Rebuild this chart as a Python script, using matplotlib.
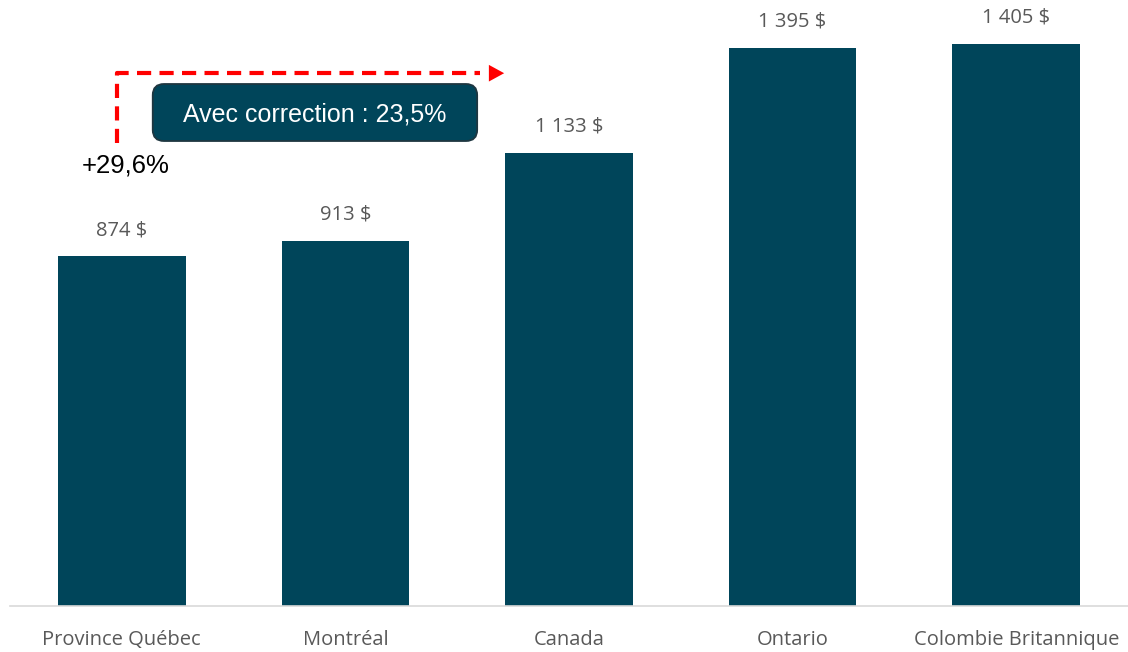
import numpy as np
import matplotlib.pyplot as plt
from matplotlib.patches import FancyBboxPatch

regions = ["Province Québec", "Montréal", "Canada", "Ontario", "Colombie Britannique"]
costs = [874, 913, 1133, 1395, 1405]
value_labels = ["874 $", "913 $", "1 133 $", "1 395 $", "1 405 $"]
hausse = "+29,6%"
correction = "Avec correction : 23,5%"

bar_color = "#00455A"
grey = "#595959"

fig = plt.figure(figsize=(11.28, 6.52), dpi=100)
ax = fig.add_axes([10 / 1128, 1 - 606 / 652, 1118 / 1128, 606 / 652])

x = np.arange(len(regions))
bars = ax.bar(x, costs, width=0.57, color=bar_color, zorder=2)

for b, lab in zip(bars, value_labels):
    ax.annotate(lab, (b.get_x() + b.get_width() / 2, b.get_height()),
                xytext=(0, 19), textcoords="offset points", ha="center", va="center",
                fontsize=14.5, color=grey, family="Open Sans")

ax.set_xlim(-0.5, len(regions) - 0.5)
ax.set_ylim(0, 1515)
ax.set_xticks(x)
ax.set_xticklabels(regions, fontsize=14.5, color=grey, family="Open Sans")
ax.tick_params(axis="x", length=0, pad=17.5)
ax.set_yticks([])
for s in ["top", "right", "left"]:
    ax.spines[s].set_visible(False)
ax.spines["bottom"].set_color("#D9D9D9")
ax.spines["bottom"].set_linewidth(1.2)

# dashed red path: up from the first bar, then right towards Canada
x0 = x[0] - 0.022
y_low, y_high = 1157, 1332
ax.plot([x0, x0, 1.6], [y_low, y_high, y_high], color="red", lw=3,
        ls=(0, (3.4, 2.0)), zorder=3, clip_on=False)
ax.annotate("", xy=(1.71, y_high), xytext=(1.6, y_high),
            arrowprops=dict(arrowstyle="-|>,head_length=1.1,head_width=0.6",
                            color="red", lw=0, shrinkA=0, shrinkB=0))

ax.text(x0 + 0.04, 1100, hausse, ha="center", va="center", fontsize=18.5,
        color="black", family="Liberation Sans")

# rounded box with the corrected figure
bx0, bx1 = (153 - 122) / 224, (478 - 122) / 224
by0, by1 = (606 - 141) / 0.4, (606 - 84) / 0.4
box = FancyBboxPatch((bx0, by0), bx1 - bx0, by1 - by0,
                     boxstyle="round,pad=0,rounding_size=0.05",
                     mutation_aspect=560, facecolor=bar_color,
                     edgecolor="#1E3640", lw=1.3, zorder=4)
ax.add_patch(box)
ax.text((bx0 + bx1) / 2, (by0 + by1) / 2 - 6, correction, ha="center", va="center",
        fontsize=18, color="white", family="Liberation Sans", zorder=5)

fig.savefig("out.png", dpi=100)
